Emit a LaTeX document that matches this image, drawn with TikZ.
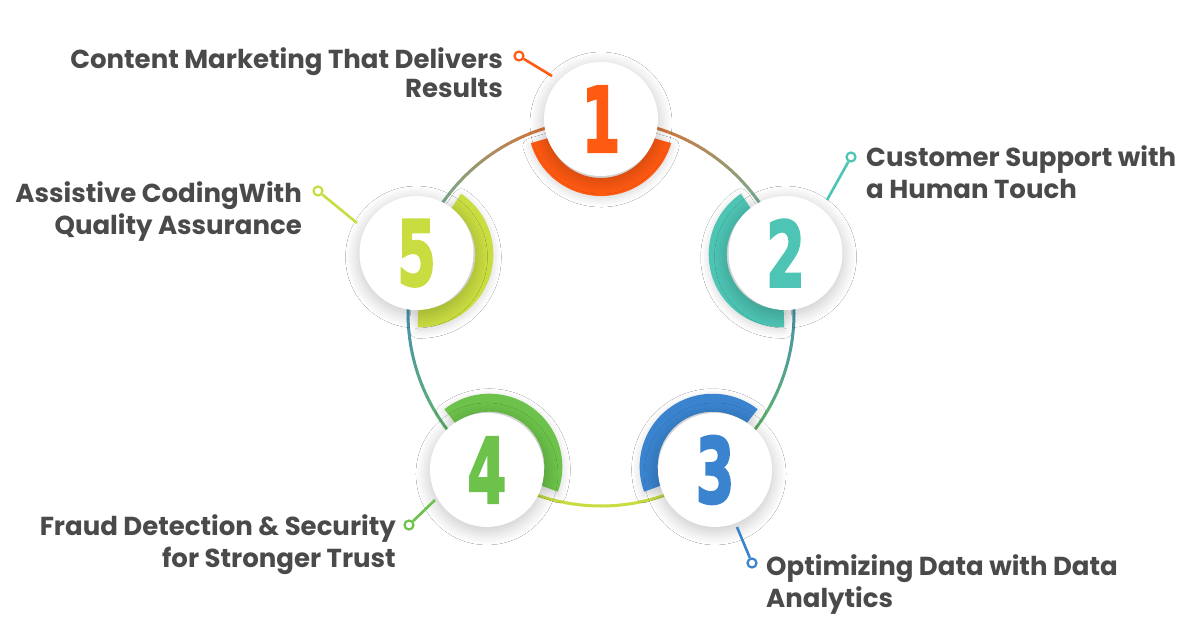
\documentclass[tikz,border=0pt]{standalone}
\usepackage{fontspec}
\setmainfont{Poppins}
\newfontfamily\numfont{DejaVu Sans}[FakeBold=3]
\usetikzlibrary{shadows.blur,calc}
\definecolor{cOr}{HTML}{FF5A12}
\definecolor{cTe}{HTML}{4DC4B4}
\definecolor{cBl}{HTML}{3A84CF}
\definecolor{cGr}{HTML}{6CC24A}
\definecolor{cLi}{HTML}{C9DD41}
\definecolor{txt}{HTML}{4A4A4A}
\begin{document}
\begin{tikzpicture}[x=1pt,y=-1pt,
  lbl/.style={font=\fontsize{26}{32}\selectfont\bfseries, text=txt, inner sep=0pt},
  whitec/.style={circle, fill=white, minimum size=114pt, inner sep=0pt,
    blur shadow={shadow blur steps=16, shadow xshift=0pt, shadow yshift=-4pt, shadow blur radius=14pt, shadow opacity=24}},
  num/.style={font=\numfont\bfseries\fontsize{90}{90}\selectfont, inner sep=0pt},
  dotc/.style={circle, draw, fill=white, line width=2.2pt, minimum size=9pt, inner sep=0pt},
  lead/.style={line width=2.6pt},
  band/.style={blur shadow={shadow blur steps=10, shadow xshift=0pt, shadow yshift=-3pt, shadow blur radius=8pt, shadow opacity=16}}
]
\useasboundingbox[fill=white] (0,0) rectangle (1200,627);
\coordinate (O) at (601,313);

% ring with colour gradients
\foreach \k/\ca/\cb in {0/cOr/cTe,1/cBl/cGr,2/cLi/cLi,3/cGr/cBl,4/cTe/cOr}{
  \foreach \i in {0,...,35}{
    \pgfmathsetmacro\angA{-90+72*\k+2*\i}
    \pgfmathsetmacro\angB{\angA+2.15}
    \pgfmathtruncatemacro\p{100-100*(\i+0.5)/36}
    \draw[line width=3pt, draw={\ca!\p!\cb}] ($(O)+(\angA:193)$) arc[start angle=\angA, end angle=\angB, radius=193];
  }
}

% coloured bands
\foreach \k/\c in {0/cOr,1/cTe,2/cBl,3/cGr,4/cLi}{
  \pgfmathsetmacro\tha{-90+72*\k}
  \pgfmathsetmacro\sA{\tha+180-74}
  \pgfmathsetmacro\eA{\tha+180+74}
  \coordinate (A\k) at ($(O)+(\tha:190)$);
  \fill[\c, band] ($(A\k)+(\sA:73)$) arc[start angle=\sA, end angle=\eA, radius=73]
     -- ($(A\k)+(\eA:55)$) arc[start angle=\eA, end angle=\sA, radius=55] -- cycle;
}

% white discs and numbers
\node[whitec] (w1) at ($(O)+(-90:194)$) {};
\node[whitec] (w2) at ($(O)+(-18:194)$) {};
\node[whitec] (w3) at ($(O)+(54:194)$) {};
\node[whitec] (w4) at ($(O)+(126:194)$) {};
\node[whitec] (w5) at ($(O)+(198:194)$) {};
\node[num, text=cOr] (n1) at (w1) {\scalebox{0.62}[1]{1}};
\node[num, text=cTe] (n2) at (w2) {\scalebox{0.62}[1]{2}};
\node[num, text=cBl] (n3) at (w3) {\scalebox{0.62}[1]{3}};
\node[num, text=cGr] (n4) at (w4) {\scalebox{0.62}[1]{4}};
\node[num, text=cLi] (n5) at (w5) {\scalebox{0.62}[1]{5}};

% labels
\node[lbl, anchor=north east, align=right] (t1) at (503,47) {Content Marketing That Delivers\\[-3pt]Results};
\node[lbl, anchor=north west, align=left] (t2) at (866,145) {Customer Support with\\a Human Touch};
\node[lbl, anchor=north west, align=left] (t3) at (766,554) {Optimizing Data with Data\\Analytics};
\node[lbl, anchor=north east, align=right] (t4) at (396,514) {Fraud Detection \& Security\\for Stronger Trust};
\node[lbl, anchor=north east, align=right] (t5) at (302,181) {Assistive CodingWith\\Quality Assurance};

% leaders
\node[dotc, draw=cOr] (d1) at (519,56) {};
\coordinate (e1) at (552,76);
\draw[lead, cOr] (d1) -- (e1);
\node[dotc, draw=cTe] (d2) at (851,157) {};
\coordinate (e2) at (827,200);
\draw[lead, cTe] (d2) -- (e2);
\node[dotc, draw=cBl] (d3) at (752,563) {};
\coordinate (e3) at (737,527);
\draw[lead, cBl] (e3) -- (d3);
\node[dotc, draw=cGr] (d4) at (409,525) {};
\coordinate (e4) at (435,500);
\draw[lead, cGr] (d4) -- (e4);
\node[dotc, draw=cLi] (d5) at (318,191) {};
\coordinate (e5) at (357,223);
\draw[lead, cLi] (d5) -- (e5);
\end{tikzpicture}
\end{document}
